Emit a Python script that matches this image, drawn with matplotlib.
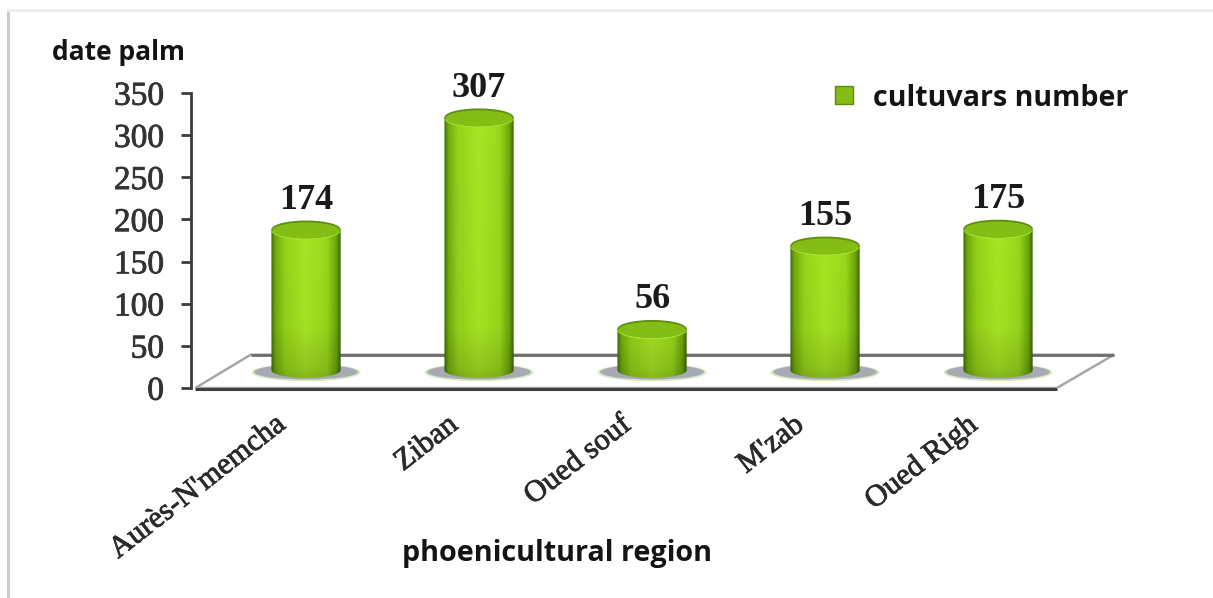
import numpy as np
import matplotlib
matplotlib.use("Agg")
import matplotlib.pyplot as plt
import matplotlib.patheffects as pe
from matplotlib.patches import Ellipse, PathPatch, Patch, Polygon
from matplotlib.path import Path
from matplotlib.lines import Line2D
from matplotlib.transforms import ScaledTranslation

regions = ["Aurès-N'memcha", "Ziban", "Oued souf", "M'zab", "Oued Righ"]
cultivars = [174, 307, 56, 155, 175]
y_ticks = [0, 50, 100, 150, 200, 250, 300, 350]

W, H = 1213, 598
DEPTH = 14.2       # tops are drawn this far above their value (3d depth)
BASE = 21          # centre of the rounded foot of the cylinders
FOOT = 9
HALF_W = 0.2
CAP = 10.5         # half height of the top ellipse, in y units


def cylinder_colors(rows=200, cols=120):
    # dark edges, bright middle
    stops = np.array([[0.24, 0.42, 0.03], [0.44, 0.68, 0.05], [0.59, 0.83, 0.10],
                      [0.66, 0.91, 0.14], [0.60, 0.85, 0.11], [0.42, 0.65, 0.05],
                      [0.22, 0.39, 0.03]])
    pos = [0, 0.06, 0.2, 0.5, 0.8, 0.94, 1]
    u = np.linspace(0, 1, cols)
    row = np.stack([np.interp(u, pos, stops[:, i]) for i in range(3)], axis=1)
    img = np.repeat(row[None, :, :], rows, axis=0)
    return img


fig = plt.figure(figsize=(W / 100, H / 100), dpi=100, facecolor="white")

# pixel box of the plotting area
left, right, top, bottom = 191, 1115, 93, 388
ax = fig.add_axes([left / W, 1 - bottom / H, (right - left) / W, (bottom - top) / H])
ax.set_xlim(-0.665, 4.676)
ax.set_ylim(0, 350)
ax.patch.set_alpha(0)

x = np.arange(len(regions))

# floor of the 3d chart
floor = Polygon([(-0.64, 0), (4.34, 0), (4.67, 39.5), (-0.32, 39.5)], closed=True,
                facecolor="white", edgecolor="#a6a6a6", linewidth=1.8, zorder=1)
ax.add_patch(floor)
ax.plot([-0.64, 4.34], [-1, -1], color="#3f3f3f", linewidth=2.2, zorder=2, clip_on=False,
        solid_capstyle="butt")
ax.plot([-0.32, 4.67], [39.5, 39.5], color="#6c6c6c", linewidth=2, zorder=2,
        solid_capstyle="butt")

img = cylinder_colors()
for xi, value in zip(x, cultivars):
    y1 = DEPTH + value

    # shadow under the cylinder
    ax.add_patch(Ellipse((xi, 18.5), 0.63, 21, facecolor="#d6ebc0", edgecolor="none", zorder=3))
    ax.add_patch(Ellipse((xi, 19), 0.60, 18, facecolor="#a9a9b6", edgecolor="none", zorder=3))

    # body: flat top, rounded foot
    k = 0.5523
    verts = [(xi - HALF_W, y1), (xi - HALF_W, BASE),
             (xi - HALF_W, BASE - k * FOOT), (xi - k * HALF_W, BASE - FOOT), (xi, BASE - FOOT),
             (xi + k * HALF_W, BASE - FOOT), (xi + HALF_W, BASE - k * FOOT), (xi + HALF_W, BASE),
             (xi + HALF_W, y1), (xi - HALF_W, y1)]
    codes = [Path.MOVETO, Path.LINETO, Path.CURVE4, Path.CURVE4, Path.CURVE4,
             Path.CURVE4, Path.CURVE4, Path.CURVE4, Path.LINETO, Path.CLOSEPOLY]
    body = PathPatch(Path(verts, codes), facecolor="none", edgecolor="none", transform=ax.transData)
    ax.add_patch(body)
    # shade only the foot of each body
    h = y1 - (BASE - FOOT)
    fade = np.interp(np.linspace(0, h, img.shape[0]), [0, 12, 60, h + 60], [0.80, 0.86, 0.97, 1.0])
    shaded = np.clip(img * fade[::-1, None, None], 0, 1)
    im = ax.imshow(shaded, extent=[xi - HALF_W, xi + HALF_W, BASE - FOOT, y1], origin="upper",
                   aspect="auto", zorder=4, interpolation="bilinear")
    im.set_clip_path(body)

    # top of the cylinder: dark back rim, pale front rim
    ax.add_patch(Ellipse((xi, y1 - 1.6), 2 * HALF_W, 2 * CAP, facecolor="#aae432", edgecolor="none", zorder=5))
    ax.add_patch(Ellipse((xi, y1), 2 * HALF_W, 2 * CAP, facecolor="#5f8f0c", edgecolor="none", zorder=5))
    ax.add_patch(Ellipse((xi, y1 - 1.2), 1.94 * HALF_W, 1.8 * CAP, facecolor="#84bd16",
                         edgecolor="none", zorder=5))

    ax.annotate(str(value), (xi, y1), xytext=(0, 9), textcoords="offset points",
                ha="center", va="bottom", family="Liberation Serif", weight="bold",
                fontsize=26, color="#1a1a1a", zorder=6)

# axes
for side in ["top", "right", "bottom"]:
    ax.spines[side].set_visible(False)
ax.spines["left"].set_color("#3c3c3c")
ax.spines["left"].set_linewidth(2)
ax.set_yticks(y_ticks)
ax.tick_params(axis="y", length=7.5, width=2, color="#3c3c3c", pad=12,
               labelsize=24, labelcolor="#333333")
heavy = [pe.withStroke(linewidth=0.6, foreground="#333333")]
for lab in ax.get_yticklabels():
    lab.set_family("Liberation Serif")
    lab.set_path_effects(heavy)

ax.set_xticks(x)
ax.set_xticklabels(regions, rotation=38, ha="right", va="top", rotation_mode="anchor",
                   family="Liberation Serif", fontsize=22, color="#2a2a2a")
ax.tick_params(axis="x", length=0, pad=16)
shift = ScaledTranslation(-24 / 72, 0, fig.dpi_scale_trans)
for lab in ax.get_xticklabels():
    lab.set_transform(lab.get_transform() + shift)
    lab.set_path_effects(heavy)

# axis titles
fig.text(118 / W, 1 - 53 / H, "date palm", ha="center", va="center", family="Open Sans",
         weight="bold", fontsize=19, color="#141414")
fig.text(557 / W, 1 - 553 / H, "phoenicultural region", ha="center", va="center",
         family="Open Sans", weight="bold", fontsize=20.7, color="#141414")

ax.legend(handles=[Patch(facecolor="#86bc16", edgecolor="#5b8c0a", label="cultuvars number")],
          loc="center left", bbox_to_anchor=(835 / W, 1 - 98 / H), bbox_transform=fig.transFigure,
          frameon=False, handlelength=0.63, handleheight=0.6, handletextpad=0.7, borderpad=0,
          borderaxespad=0, prop={"family": "Open Sans", "weight": "bold", "size": 20.6})
for t in ax.get_legend().get_texts():
    t.set_color("#141414")

# thin frame around the chart
fig.add_artist(Line2D([8 / W, 8 / W], [0, 1 - 10 / H], color="#cccccc", linewidth=2.2))
fig.add_artist(Line2D([8 / W, 1], [1 - 10 / H, 1 - 10 / H], color="#eeeeee", linewidth=2))

fig.savefig("out.png", dpi=100, facecolor="white")
